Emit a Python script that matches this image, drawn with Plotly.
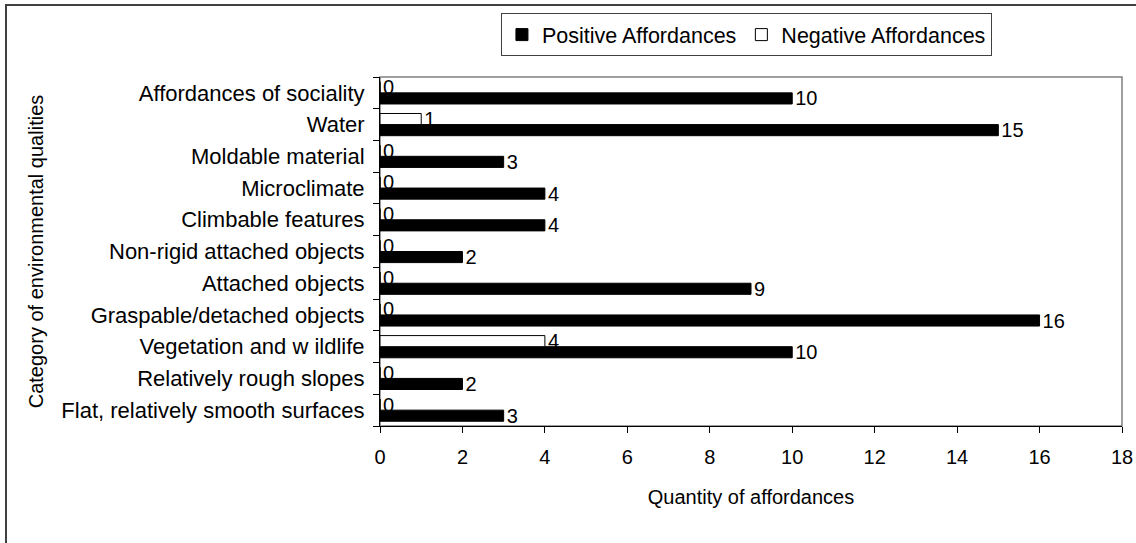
import plotly.graph_objects as go

categories = [
    "Flat, relatively smooth surfaces",
    "Relatively rough slopes",
    "Vegetation and w ildlife",
    "Graspable/detached objects",
    "Attached objects",
    "Non-rigid attached objects",
    "Climbable features",
    "Microclimate",
    "Moldable material",
    "Water",
    "Affordances of sociality",
]
positive = [3, 2, 10, 16, 9, 2, 4, 4, 3, 15, 10]
negative = [0, 0, 4, 0, 0, 0, 0, 0, 0, 1, 0]
x_ticks = [0, 2, 4, 6, 8, 10, 12, 14, 16, 18]

FONT = "Liberation Sans, Arial, sans-serif"
FS = 20

fig = go.Figure()
fig.add_trace(go.Bar(
    y=categories, x=positive, orientation="h", name="Positive Affordances",
    marker=dict(color="black", line=dict(color="black", width=1)),
    text=[str(v) for v in positive], textposition="outside", constraintext="none",
    textfont=dict(family=FONT, size=FS, color="black"), cliponaxis=False,
))
fig.add_trace(go.Bar(
    y=categories, x=negative, orientation="h", name="Negative Affordances",
    marker=dict(color="white", line=dict(color="black", width=1)),
    text=[str(v) for v in negative], textposition="outside", constraintext="none",
    textfont=dict(family=FONT, size=FS, color="black"), cliponaxis=False,
))

fig.update_layout(
    width=1136, height=543,
    margin=dict(l=380, r=14, t=77, b=117, autoexpand=False),
    paper_bgcolor="white", plot_bgcolor="white",
    barmode="group", bargap=0.3, bargroupgap=0,
    font=dict(family=FONT, size=FS, color="black"),
    showlegend=True,
    legend=dict(
        orientation="h", x=0.163, y=1.183, xanchor="left", yanchor="top",
        bgcolor="white", bordercolor="#404040", borderwidth=1,
        font=dict(family=FONT, size=21.5, color="black"),
        traceorder="normal",
    ),
    xaxis=dict(
        range=[0, 18], tickvals=x_ticks, ticktext=[str(t) for t in x_ticks],
        showgrid=False, zeroline=False, showline=True, linecolor="black", linewidth=1,
        ticks="outside", ticklen=6, tickcolor="black", ticklabelstandoff=7,
        tickfont=dict(family=FONT, size=FS),
        title=dict(text="Quantity of affordances", standoff=22,
                   font=dict(family=FONT, size=FS)),
    ),
    yaxis=dict(
        categoryorder="array", categoryarray=categories,
        showgrid=False, zeroline=False, showline=True, linecolor="black", linewidth=1,
        ticks="outside", ticklen=6, tickcolor="black", tickson="boundaries",
        ticklabelstandoff=10,
        tickfont=dict(family=FONT, size=22),
        title=dict(text="Category of environmental qualities", standoff=12,
                   font=dict(family=FONT, size=FS)),
    ),
    shapes=[
        dict(type="rect", xref="paper", yref="paper", x0=0, x1=1, y0=0, y1=1,
             line=dict(color="#808080", width=1.5), fillcolor="rgba(0,0,0,0)", layer="below"),
        dict(type="rect", xref="paper", yref="paper",
             x0=(6 - 380) / 742, x1=1.1, y0=-0.5, y1=(426 - 5) / 349,
             line=dict(color="#404040", width=2), fillcolor="rgba(0,0,0,0)", layer="below"),
    ],
)

fig.write_html("out.html", config={"displayModeBar": False},
               post_script="document.body.style.margin='0';")
